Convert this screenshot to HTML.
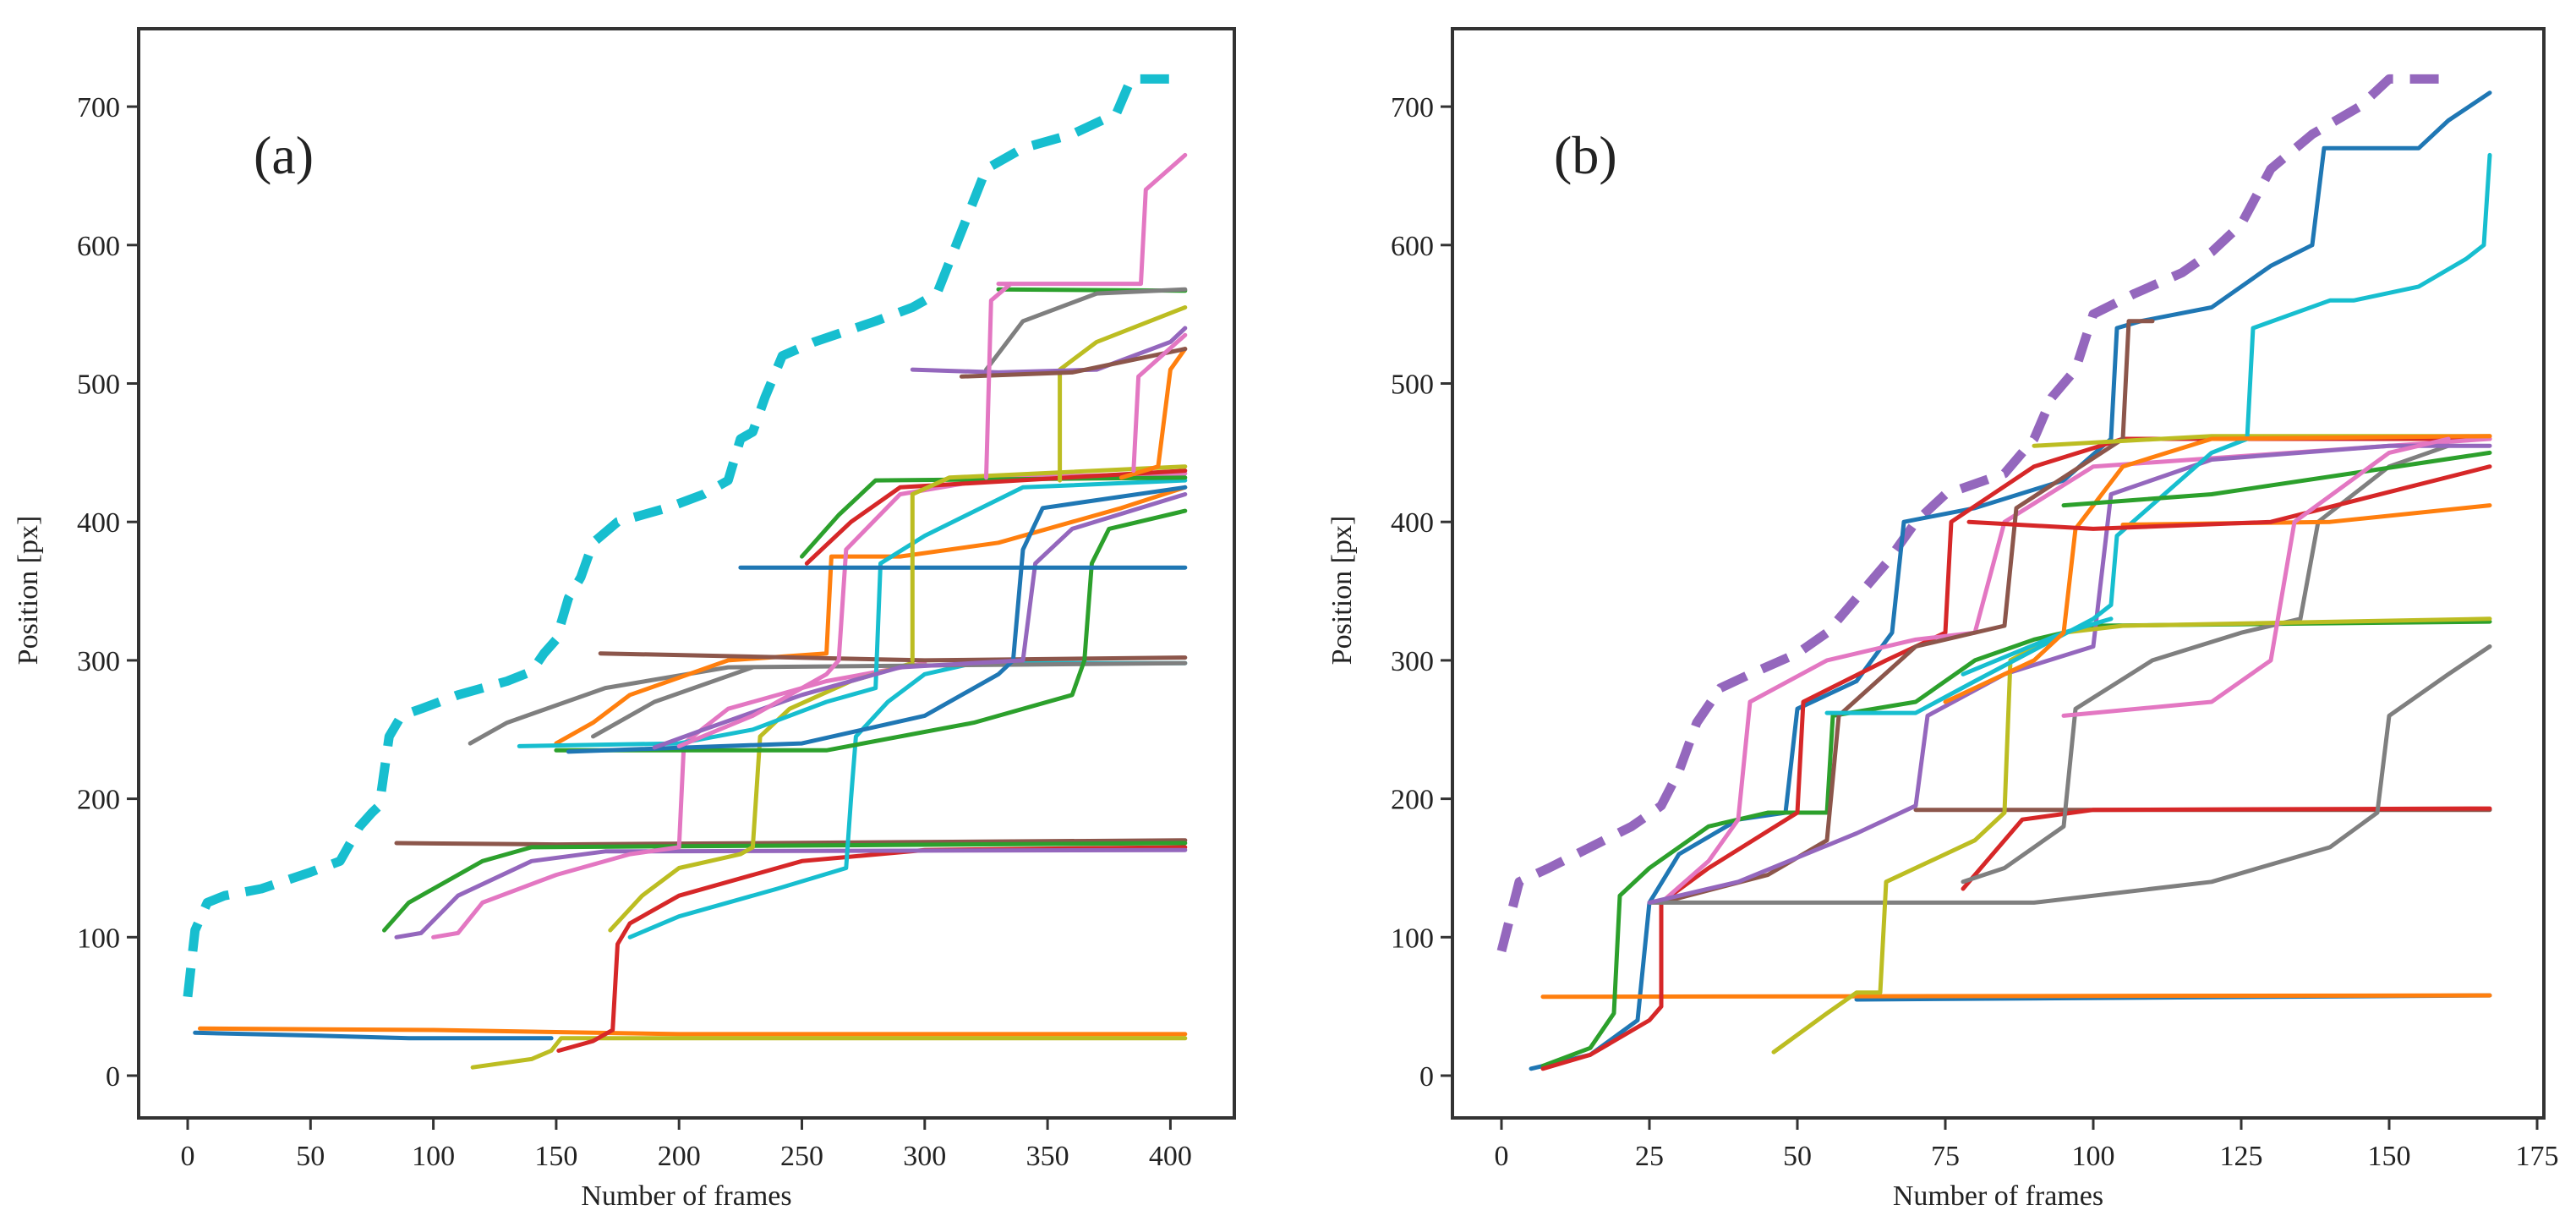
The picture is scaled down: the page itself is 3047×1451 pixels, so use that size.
<!DOCTYPE html>
<html><head><meta charset="utf-8"><style>
html,body{margin:0;padding:0;background:#fff;}
svg{display:block;}
text{font-family:"Liberation Serif",serif;fill:#222;}
</style></head><body>
<svg id="chart" width="3047" height="1451" viewBox="0 0 3047 1451" xmlns="http://www.w3.org/2000/svg">
<rect width="3047" height="1451" fill="#fff"/>
</svg>
<script>
const C={blue:'#1f77b4',orange:'#ff7f0e',green:'#2ca02c',red:'#d62728',purple:'#9467bd',brown:'#8c564b',pink:'#e377c2',gray:'#7f7f7f',olive:'#bcbd22',cyan:'#17becf'};
const yTicks=[0,100,200,300,400,500,600,700];
const xTicksA=[0,50,100,150,200,250,300,350,400];
const xTicksB=[0,25,50,75,100,125,150,175];
// panel (a) series: [color, dashed, points [frame, px]]
const seriesA=[
['cyan',1,[[0,57],[3,105],[8,125],[15,130],[30,135],[50,147],[62,155],[70,180],[75,190],[78,195],[82,245],[87,260],[95,265],[110,275],[130,285],[140,292],[145,305],[150,315],[155,345],[160,360],[165,385],[175,400],[195,410],[210,420],[220,430],[225,460],[230,465],[235,490],[242,520],[255,530],[280,545],[295,555],[305,565],[315,610],[325,655],[340,670],[360,680],[378,695],[384,720],[406,720]]],
['blue',0,[[3,31],[50,29],[90,27],[148,27]]],
['orange',0,[[5,34],[100,33],[200,30],[406,30]]],
['olive',0,[[116,6],[140,12],[148,18],[152,27],[406,27]]],
['red',0,[[151,18],[165,25],[173,33],[175,95],[180,110],[200,130],[250,155],[300,163],[406,165]]],
['brown',0,[[85,168],[150,167],[406,170]]],
['green',0,[[80,105],[90,125],[120,155],[140,165],[406,168]]],
['purple',0,[[85,100],[95,103],[110,130],[140,155],[170,162],[406,163]]],
['pink',0,[[100,100],[110,103],[120,125],[150,145],[180,160],[200,165],[202,240],[220,265],[260,285],[300,298]]],
['cyan',0,[[180,100],[200,115],[240,135],[268,150],[270,200],[272,245],[285,270],[300,290],[320,298],[406,298]]],
['olive',0,[[172,105],[185,130],[200,150],[225,160],[230,165],[233,245],[245,265],[270,285],[295,298]]],
['gray',0,[[115,240],[130,255],[170,280],[220,295],[406,298]]],
['gray',0,[[165,245],[190,270],[230,295]]],
['orange',0,[[150,240],[165,255],[180,275],[220,300],[260,305],[262,375],[290,375],[330,385],[380,410],[406,425]]],
['brown',0,[[168,305],[300,300],[406,302]]],
['cyan',0,[[135,238],[200,240],[230,250],[260,270],[280,280],[282,370],[300,390],[340,425],[406,430]]],
['green',0,[[150,235],[260,235],[320,255],[360,275],[365,300],[368,370],[375,395],[406,408]]],
['blue',0,[[155,234],[250,240],[300,260],[330,290],[336,300],[340,380],[348,410],[406,425]]],
['purple',0,[[190,237],[210,250],[250,275],[290,295],[340,300],[345,370],[360,395],[406,420]]],
['pink',0,[[200,238],[230,260],[260,290],[265,300],[268,380],[290,420],[330,432],[406,435]]],
['blue',0,[[225,367],[406,367]]],
['green',0,[[250,375],[265,405],[280,430],[406,432]]],
['red',0,[[252,370],[270,400],[290,425],[406,437]]],
['olive',0,[[295,300],[295,420],[310,432],[406,440]]],
['orange',0,[[380,432],[395,440],[400,510],[406,525]]],
['pink',0,[[330,572],[388,572],[390,640],[406,665]]],
['green',0,[[330,568],[406,567]]],
['gray',0,[[325,510],[340,545],[370,565],[406,568]]],
['olive',0,[[355,430],[355,510],[370,530],[406,555]]],
['purple',0,[[295,510],[330,508],[370,510],[400,530],[406,540]]],
['brown',0,[[315,505],[360,508],[406,525]]],
['pink',0,[[385,437],[387,505],[406,535]]],
['pink',0,[[325,432],[327,560],[335,572]]]
];
// panel (b) series
const seriesB=[
['purple',1,[[0,90],[3,140],[8,150],[15,165],[22,180],[27,195],[30,220],[33,255],[37,280],[42,290],[50,305],[55,320],[60,345],[65,370],[70,400],[75,420],[85,435],[90,460],[93,490],[97,510],[100,550],[107,565],[115,580],[120,595],[125,615],[130,655],[137,680],[145,700],[150,720],[160,720]]],
['blue',0,[[5,5],[15,15],[23,40],[25,125],[30,160],[40,185],[48,190],[50,265],[60,285],[66,320],[68,400],[80,410],[95,430],[103,460],[104,540],[108,545],[120,555],[130,585],[137,600],[139,670],[155,670],[160,690],[167,710]]],
['blue',0,[[60,55],[167,58]]],
['orange',0,[[7,57],[167,58]]],
['green',0,[[7,7],[15,20],[19,45],[20,130],[25,150],[35,180],[45,190],[55,190],[56,260],[70,270],[80,300],[90,315],[100,325],[167,328]]],
['red',0,[[7,5],[15,15],[25,40],[27,50],[27,125],[35,150],[50,190],[51,270],[65,300],[75,320],[76,400],[90,440],[105,460],[167,460]]],
['pink',0,[[27,125],[35,155],[40,185],[42,270],[55,300],[70,315],[80,320],[85,400],[100,440],[167,460]]],
['brown',0,[[27,125],[45,145],[55,170],[57,260],[70,310],[85,325],[87,410],[105,460],[106,545],[110,545]]],
['brown',0,[[70,192],[167,192]]],
['red',0,[[78,135],[88,185],[100,192],[167,193]]],
['gray',0,[[25,125],[60,125],[90,125],[120,140],[140,165],[148,190],[150,260],[160,290],[167,310]]],
['gray',0,[[78,140],[85,150],[95,180],[97,265],[110,300],[125,320],[135,330],[138,400],[150,440],[160,455]]],
['purple',0,[[25,125],[40,140],[60,175],[70,195],[72,260],[85,290],[100,310],[103,420],[120,445],[150,455],[167,455]]],
['olive',0,[[46,17],[55,45],[60,60],[64,60],[65,140],[80,170],[85,190],[86,300],[95,320],[105,325],[167,330]]],
['olive',0,[[90,455],[120,462],[167,462]]],
['cyan',0,[[55,262],[70,262],[80,285],[100,330],[103,340],[104,390],[120,450],[126,460],[127,540],[140,560],[144,560],[155,570],[163,590],[166,600],[167,665]]],
['cyan',0,[[78,290],[95,320],[103,330]]],
['orange',0,[[75,270],[90,300],[95,320],[97,395],[105,440],[120,460],[167,462]]],
['orange',0,[[105,398],[140,400],[167,412]]],
['red',0,[[79,400],[100,395],[130,400],[167,440]]],
['green',0,[[95,412],[120,420],[167,450]]],
['pink',0,[[95,260],[120,270],[130,300],[134,400],[150,450],[160,460]]]
];
const NS='http://www.w3.org/2000/svg';
const svg=document.getElementById('chart');
function mk(tag,attrs,parent){const e=document.createElementNS(NS,tag);for(const k in attrs)e.setAttribute(k,attrs[k]);(parent||svg).appendChild(e);return e;}
function panel(P){
  const g=mk('g',{});
  
  
  const xs=v=>P.x0+v*P.xk, ys=v=>P.y0-v*P.yk;
  P.series.forEach((s,i)=>{
    const d=s[2].map((p,j)=>(j?'L':'M')+xs(p[0]).toFixed(1)+' '+ys(p[1]).toFixed(1)).join(' ');
    const path=mk('path',{d:d,fill:'none',stroke:C[s[0]],'stroke-width':s[1]?11:5,'stroke-linejoin':'round','stroke-linecap':s[1]?'butt':'round','stroke-dasharray':s[1]?'34 20':'none'},g);
    
    
  });
  const fr=mk('rect',{x:P.L,y:P.T,width:P.R-P.L,height:P.B-P.T,fill:'none',stroke:'#333','stroke-width':4},g);
  
  
  yTicks.forEach(v=>{
    mk('line',{x1:P.L-14,x2:P.L,y1:ys(v),y2:ys(v),stroke:'#333','stroke-width':3},g);
    const t=mk('text',{x:P.L-22,y:ys(v)+12,'text-anchor':'end','font-size':34},g);
    t.textContent=v;
    
    
  });
  P.xt.forEach(v=>{
    mk('line',{x1:xs(v),x2:xs(v),y1:P.B,y2:P.B+14,stroke:'#333','stroke-width':3},g);
    const t=mk('text',{x:xs(v),y:P.B+56,'text-anchor':'middle','font-size':34},g);
    t.textContent=v;
    
    
  });
  const xl=mk('text',{x:(P.L+P.R)/2,y:1425,'text-anchor':'middle','font-size':34},g);
  xl.textContent='Number of frames';
  
  
  const yl=mk('text',{x:0,y:0,'text-anchor':'middle','font-size':34,transform:`translate(${P.L-120},${(P.T+P.B)/2+20}) rotate(-90)`},g);
  yl.textContent='Position [px]';
  
  
  const lab=mk('text',{x:P.lx,y:205,'font-size':64},g);
  lab.textContent=P.label;
  
  
}
panel({name:'panel-a',L:164,R:1460,T:34,B:1322,x0:222,xk:2.906,y0:1272,yk:1.637,series:seriesA,xt:xTicksA,label:'(a)',lx:300});
panel({name:'panel-b',L:1718,R:3009,T:34,B:1322,x0:1776,xk:7.0,y0:1272,yk:1.637,series:seriesB,xt:xTicksB,label:'(b)',lx:1838});
</script>
</body></html>
